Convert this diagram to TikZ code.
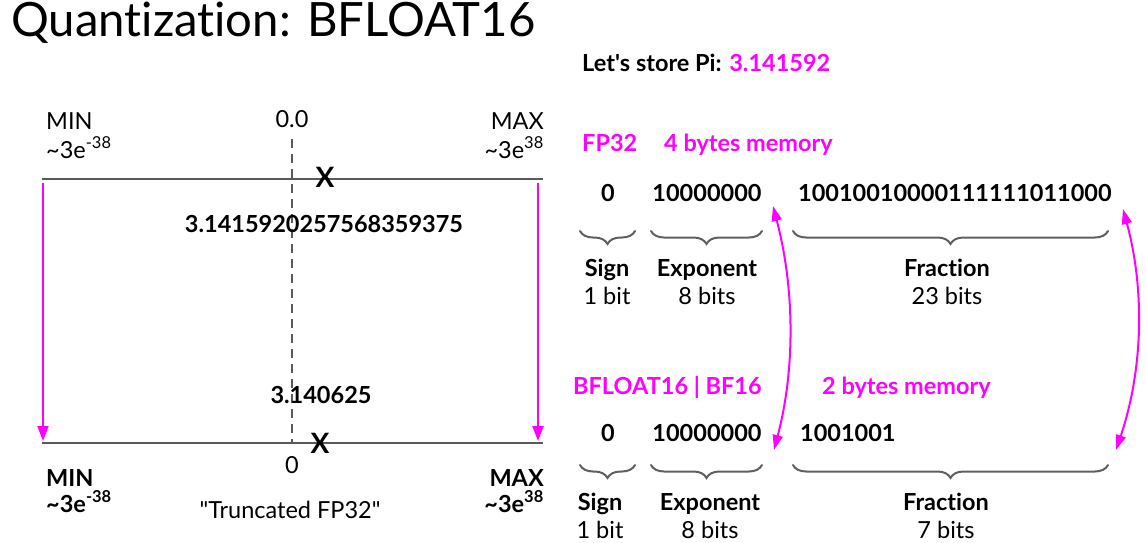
\documentclass[tikz,border=0pt]{standalone}
\usepackage{fontspec}
\setmainfont{Lato}[Ligatures={TeX,NoCommon}]
\usetikzlibrary{arrows.meta,decorations.pathreplacing}
\definecolor{mag}{RGB}{255,0,255}
\definecolor{axisgray}{RGB}{90,90,90}
\definecolor{bracegray}{RGB}{95,95,95}
\begin{document}
\begin{tikzpicture}[x=1pt,y=-1pt,
  txt/.style={inner sep=0pt, font=\fontsize{23.5}{27}\selectfont},
  btxt/.style={inner sep=0pt, font=\fontsize{23.5}{27}\selectfont\bfseries},
  magtxt/.style={btxt, text=mag},
  titletxt/.style={inner sep=0pt, font=\fontsize{47.3}{50}\selectfont},
  xmark/.style={inner sep=0pt, font=\fontsize{28}{30}\selectfont\bfseries},
  axisline/.style={draw=axisgray, line width=2.5pt},
  zeroline/.style={draw=axisgray, line width=2pt, dash pattern=on 9pt off 6pt},
  magarrow/.style={draw=mag, line width=2pt, -{Triangle[length=15pt,width=11pt]}},
  magdouble/.style={draw=mag, line width=2pt, {Triangle[length=15pt,width=10pt]}-{Triangle[length=15pt,width=10pt]}},
  bracestyle/.style={draw=bracegray, line width=2pt, line cap=round, decorate, decoration={brace,mirror,amplitude=13pt}}
]
\useasboundingbox (0,0) rectangle (1146,543);

% title
\node[titletxt, anchor=base west] (title) at (11,37) {Quantization: BFLOAT16};

% ---------- left panel ----------
\coordinate (tl) at (42,179); \coordinate (tr) at (543,179);
\coordinate (bl) at (42,443); \coordinate (br) at (543,443);
\draw[axisline] (tl) -- (tr);
\draw[axisline] (bl) -- (br);

\node[txt, anchor=base] (zeroT) at (292,127) {0.0};
\coordinate (dashTop) at (292,139); \coordinate (dashBot) at (292,443);
\draw[zeroline] (dashTop) -- (dashBot);

\node[txt, anchor=base west] (minT) at (46,129) {MIN};
\node[txt, anchor=base west] (minTv) at (46,158) {\textasciitilde3e\textsuperscript{-38}};
\node[txt, anchor=base east] (maxT) at (544,129) {MAX};
\node[txt, anchor=base east] (maxTv) at (544,158) {\textasciitilde3e\textsuperscript{38}};

\node[xmark, anchor=base] (xT) at (325,187) {X};
\node[btxt, anchor=base] (fpval) at (324,232) {3.1415920257568359375};
\node[btxt, anchor=base] (bfval) at (321,403) {3.140625};
\node[xmark, anchor=base] (xB) at (320,453) {X};
\node[txt, anchor=base] (zeroB) at (292,473) {0};

\node[btxt, anchor=base west] (minB) at (46,486) {MIN};
\node[btxt, anchor=base west] (minBv) at (46,512) {\textasciitilde3e\textsuperscript{-38}};
\node[btxt, anchor=base east] (maxB) at (544,486) {MAX};
\node[btxt, anchor=base east] (maxBv) at (544,512) {\textasciitilde3e\textsuperscript{38}};
\node[txt, anchor=base] (trunc) at (290,518) {\textquotedbl Truncated FP32\textquotedbl};

\coordinate (la1) at (43,183); \coordinate (la2) at (43,441);
\coordinate (ra1) at (538,183); \coordinate (ra2) at (538,441);
\draw[magarrow] (la1) -- (la2);
\draw[magarrow] (ra1) -- (ra2);

% ---------- right panel ----------
\node[btxt, anchor=base west] (pi) at (582,72) {Let\textquotesingle s store Pi: \textcolor{mag}{3.141592}};

\node[magtxt, anchor=base west] (fp32) at (582,151) {FP32};
\node[magtxt, anchor=base west] (fp32mem) at (664,151) {4 bytes memory};

\node[btxt, anchor=base] (s1) at (608,201) {0};
\node[btxt, anchor=base] (e1) at (707,201) {10000000};
\node[btxt, anchor=base west] (f1) at (798,201) {10010010000111111011000};

\coordinate (sb1a) at (580,231); \coordinate (sb1b) at (635,231);
\coordinate (eb1a) at (651,231); \coordinate (eb1b) at (762,231);
\coordinate (fb1a) at (793,231); \coordinate (fb1b) at (1108,231);
\draw[bracestyle] (sb1a) -- (sb1b);
\draw[bracestyle] (eb1a) -- (eb1b);
\draw[bracestyle] (fb1a) -- (fb1b);

\node[btxt, anchor=base] (sign1) at (607,276) {Sign};
\node[txt, anchor=base] (sign1b) at (607,304) {1 bit};
\node[btxt, anchor=base] (exp1) at (707,276) {Exponent};
\node[txt, anchor=base] (exp1b) at (707,304) {8 bits};
\node[btxt, anchor=base] (frac1) at (947,276) {Fraction};
\node[txt, anchor=base] (frac1b) at (947,304) {23 bits};

\node[magtxt, anchor=base west] (bf16) at (573,394) {BFLOAT16 | BF16};
\node[magtxt, anchor=base west] (bf16mem) at (822,394) {2 bytes memory};

\node[btxt, anchor=base] (s2) at (608,441) {0};
\node[btxt, anchor=base] (e2) at (707,441) {10000000};
\node[btxt, anchor=base west] (f2) at (800,441) {1001001};

\coordinate (sb2a) at (580,465); \coordinate (sb2b) at (635,465);
\coordinate (eb2a) at (651,465); \coordinate (eb2b) at (762,465);
\coordinate (fb2a) at (793,465); \coordinate (fb2b) at (1108,465);
\draw[bracestyle] (sb2a) -- (sb2b);
\draw[bracestyle] (eb2a) -- (eb2b);
\draw[bracestyle] (fb2a) -- (fb2b);

\node[btxt, anchor=base] (sign2) at (600,510) {Sign};
\node[txt, anchor=base] (sign2b) at (600,538) {1 bit};
\node[btxt, anchor=base] (exp2) at (710,510) {Exponent};
\node[txt, anchor=base] (exp2b) at (710,538) {8 bits};
\node[btxt, anchor=base] (frac2) at (946,510) {Fraction};
\node[txt, anchor=base] (frac2b) at (946,538) {7 bits};

% double arrows FP32 <-> BF16
\coordinate (da1) at (773,206); \coordinate (db1) at (774,450);
\coordinate (da2) at (1123,209); \coordinate (db2) at (1116,450);
\draw[magdouble] (da1) .. controls (795,290) and (795,370) .. (db1);
\draw[magdouble] (da2) .. controls (1145,290) and (1143,370) .. (db2);
\end{tikzpicture}
\end{document}
